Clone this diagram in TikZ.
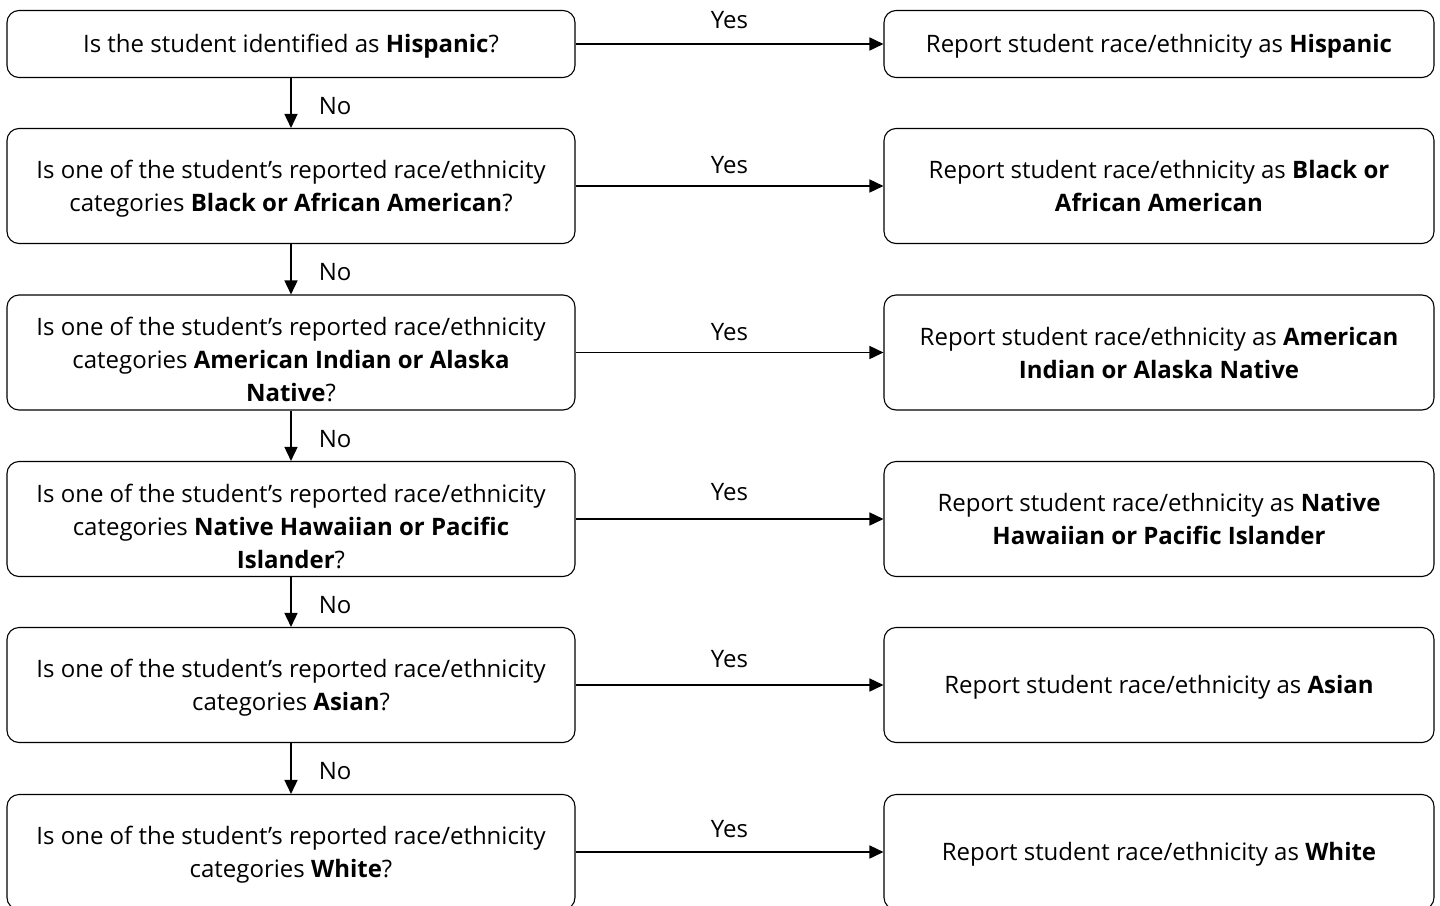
\documentclass[tikz,border=0pt]{standalone}
\usepackage{fontspec}
\setmainfont{Open Sans}
\usetikzlibrary{arrows.meta}
\begin{document}
\begin{tikzpicture}[x=1pt,y=-1pt,
  box/.style={draw=black,line width=1.1pt,rounded corners=12pt,inner sep=0pt},
  qbox/.style={box,minimum width=568pt,minimum height=115pt},
  rbox/.style={box,minimum width=550pt,minimum height=115pt},
  txt/.style={align=center,font=\fontsize{24}{33}\selectfont,inner sep=0pt},
  arr/.style={line width=1.6pt,-{Triangle[length=14pt,width=13pt]}},
  lbl/.style={font=\fontsize{24}{28}\selectfont,inner sep=0pt}]
\useasboundingbox (0,0) rectangle (1440,905);
\clip (0,0) rectangle (1440,905);
% left boxes
\node[qbox,minimum height=67pt,label={[txt,yshift=-2pt]center:{Is the student identified as \textbf{Hispanic}?}}] (q1) at (291,44) {};
\node[qbox,label={[txt,yshift=-3pt]center:{Is one of the student’s reported race/ethnicity\\categories \textbf{Black or African American}?}}] (q2) at (291,186) {};
\node[qbox,label={[txt,yshift=-7pt]center:{Is one of the student’s reported race/ethnicity\\categories \textbf{American Indian or Alaska}\\\textbf{Native}?}}] (q3) at (291,352.5) {};
\node[qbox,label={[txt,yshift=-7pt]center:{Is one of the student’s reported race/ethnicity\\categories \textbf{Native Hawaiian or Pacific}\\\textbf{Islander}?}}] (q4) at (291,519) {};
\node[qbox,label={[txt,yshift=-3pt]center:{Is one of the student’s reported race/ethnicity\\categories \textbf{Asian}?}}] (q5) at (291,685) {};
\node[qbox,label={[txt,yshift=-3pt]center:{Is one of the student’s reported race/ethnicity\\categories \textbf{White}?}}] (q6) at (291,852) {};
% right boxes
\node[rbox,minimum height=67pt,label={[txt,yshift=-2pt]center:{Report student race/ethnicity as \textbf{Hispanic}}}] (r1) at (1159,44) {};
\node[rbox,label={[txt]center:{Report student race/ethnicity as \textbf{Black or}\\\textbf{African American}}}] (r2) at (1159,186) {};
\node[rbox,label={[txt]center:{Report student race/ethnicity as \textbf{American}\\\textbf{Indian or Alaska Native}}}] (r3) at (1159,352.5) {};
\node[rbox,label={[txt]center:{Report student race/ethnicity as \textbf{Native}\\\textbf{Hawaiian or Pacific Islander}}}] (r4) at (1159,519) {};
\node[rbox,label={[txt,yshift=-2pt]center:{Report student race/ethnicity as \textbf{Asian}}}] (r5) at (1159,685) {};
\node[rbox,label={[txt,yshift=-2pt]center:{Report student race/ethnicity as \textbf{White}}}] (r6) at (1159,852) {};
% yes arrows
\foreach \i/\dy in {1/24,2/21,3/20,4/27,5/26,6/23}{
  \draw[arr] (q\i.east) -- (r\i.west) node[lbl,midway,yshift=\dy pt] {Yes};
}
% no arrows
\foreach \i/\j in {1/2,2/3,3/4,4/5,5/6}{
  \draw[arr] (q\i.south) -- (q\j.north) node[lbl,midway,anchor=west,xshift=27pt,yshift=-3pt] {No};
}
\end{tikzpicture}
\end{document}
